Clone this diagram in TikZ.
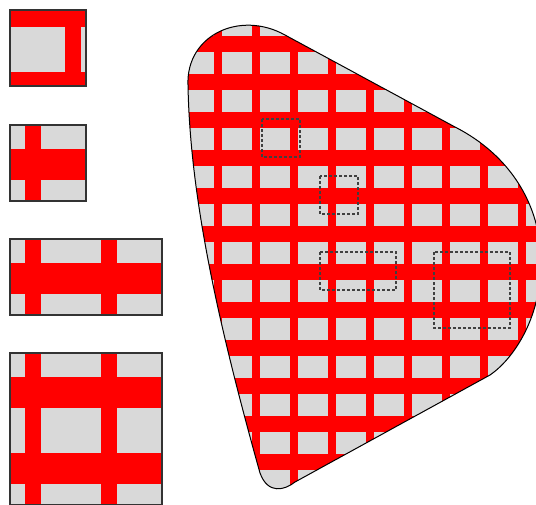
\documentclass[tikz,border=0pt]{standalone}
\usepackage{xcolor}
\usepackage{tikz}
\usetikzlibrary{calc}

\definecolor{cellgrey}{RGB}{217,217,217}

% Muster: rote Fläche mit grauen Zellen
\newcommand{\gitter}[4]{%
  \fill[red] (#1,#3) rectangle (#2,#4);
  \foreach \i in {-4,...,6}{
    \foreach \j in {-4,...,9}{
      \fill[cellgrey] ({297.5+38*\i},{127.5+38*\j}) rectangle +(30,22.5);
    }
  }
}

\begin{document}
\begin{tikzpicture}[
    x=1pt, y=-1pt,
    tilebox/.style={draw=black!80, line width=1.2pt},
    outline/.style={draw=black, line width=1pt},
    window/.style={draw=black!75, line width=1.3pt, dash pattern=on 3pt off 2pt}
]
\useasboundingbox (0,0) rectangle (536,504);
\clip (0,0) rectangle (536,504);

% 主体形状
\begin{scope}
  \clip (285,35) -- (455,127)
    .. controls (510,155) and (541,205) .. (541,262)
    .. controls (541,320) and (512,360) .. (490,375)
    -- (295,482)
    .. controls (285,490) and (268,495) .. (260,473)
    .. controls (220,330) and (190,200) .. (188,85)
    .. controls (186,35) and (240,10) .. (285,35) -- cycle;
  \gitter{180}{545}{15}{500}
\end{scope}
\draw[outline] (285,35) -- (455,127)
    .. controls (510,155) and (541,205) .. (541,262)
    .. controls (541,320) and (512,360) .. (490,375)
    -- (295,482)
    .. controls (285,490) and (268,495) .. (260,473)
    .. controls (220,330) and (190,200) .. (188,85)
    .. controls (186,35) and (240,10) .. (285,35) -- cycle;

% 虚线框
\draw[window] (262,119) rectangle (300,157);
\draw[window] (320,176) rectangle (358,214);
\draw[window] (320,252) rectangle (396,290);
\draw[window] (434,252) rectangle (510,328);

% 第一块
\begin{scope}[shift={(10,10)}, scale=2, shift={(-262,-119)}]
  \clip (262,119) rectangle (300,157);
  \gitter{262}{300}{119}{157}
\end{scope}
\draw[tilebox] (10,10) rectangle (86,86);

% 第二块
\begin{scope}[shift={(10,125)}, scale=2, shift={(-320,-176)}]
  \clip (320,176) rectangle (358,214);
  \gitter{320}{358}{176}{214}
\end{scope}
\draw[tilebox] (10,125) rectangle (86,201);

% 第三块
\begin{scope}[shift={(10,239)}, scale=2, shift={(-320,-252)}]
  \clip (320,252) rectangle (396,290);
  \gitter{320}{396}{252}{290}
\end{scope}
\draw[tilebox] (10,239) rectangle (162,315);

% 第四块
\begin{scope}[shift={(10,353)}, scale=2, shift={(-434,-252)}]
  \clip (434,252) rectangle (510,328);
  \gitter{434}{510}{252}{328}
\end{scope}
\draw[tilebox] (10,353) rectangle (162,505);

\end{tikzpicture}
\end{document}
